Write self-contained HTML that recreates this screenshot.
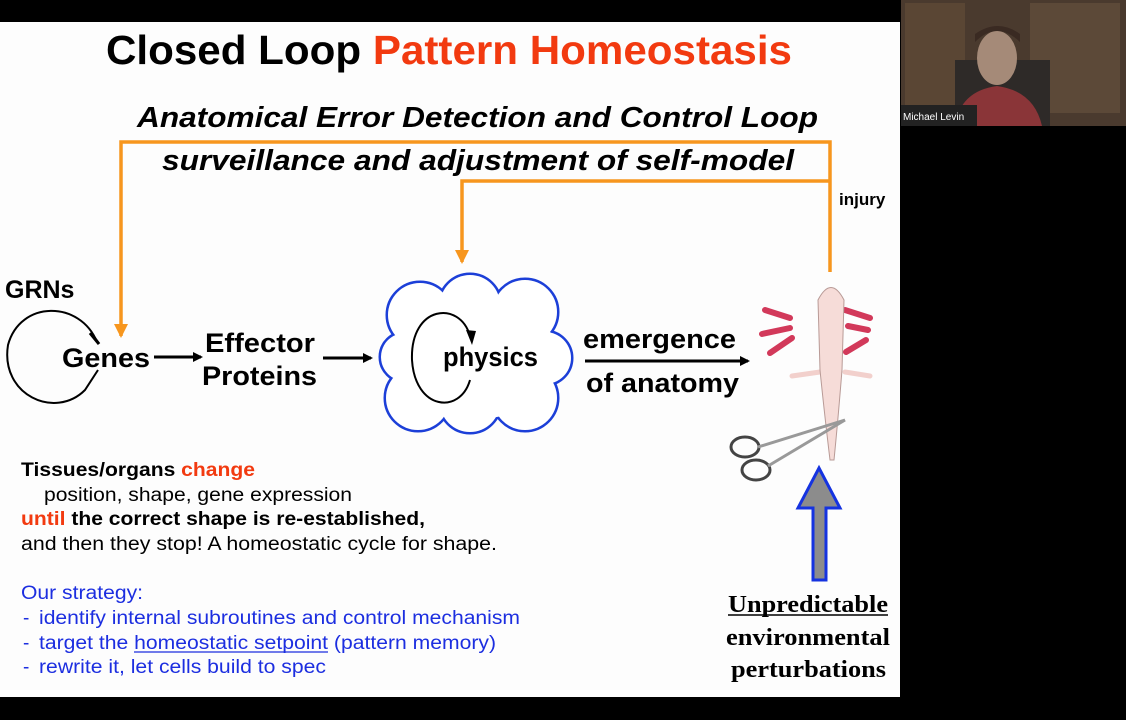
<!DOCTYPE html>
<html><head><meta charset="utf-8"><style>
html,body{margin:0;padding:0;background:#000;}
svg{display:block;}
text{font-family:"Liberation Sans",Arial,sans-serif;}
.s{font-family:"Liberation Serif",serif;}
</style></head><body>
<svg width="1126" height="720" viewBox="0 0 1126 720" xmlns="http://www.w3.org/2000/svg">
<defs>
<marker id="ab" markerWidth="10" markerHeight="10" refX="8" refY="5" orient="auto" markerUnits="userSpaceOnUse"><path d="M0,0 L10,5 L0,10 z" fill="#000"/></marker>
<marker id="ao" markerWidth="14" markerHeight="14" refX="7" refY="12" orient="0" markerUnits="userSpaceOnUse"><path d="M0,0 L14,0 L7,14 z" fill="#f7961e"/></marker>
</defs>
<rect x="0" y="0" width="1126" height="720" fill="#000"/>
<rect x="0" y="22" width="900" height="675" fill="#fdfdfd"/>
<!-- webcam -->
<rect x="901" y="0" width="225" height="126" fill="#4a3a2e"/>
<rect x="905" y="3" width="60" height="110" fill="#5a4634"/>
<rect x="1030" y="3" width="90" height="110" fill="#5c4938"/>
<rect x="955" y="60" width="95" height="66" fill="#2e2a28"/>
<ellipse cx="997" cy="58" rx="20" ry="27" fill="#a58a78"/>
<path d="M975,42 q22,-22 45,0 l0,-8 q-22,-16 -45,0z" fill="#3a2a22"/>
<path d="M955,126 q5,-35 42,-40 q37,5 45,40z" fill="#8a3538"/>
<rect x="901" y="105" width="76" height="21" fill="#222"/>
<text x="903" y="120" font-size="10" fill="#fff">Michael Levin</text>
<!-- title -->
<text x="106" y="64" font-size="41" font-weight="bold" fill="#000" textLength="686" lengthAdjust="spacingAndGlyphs">Closed Loop <tspan fill="#f23a10">Pattern Homeostasis</tspan></text>
<text x="137" y="127" font-size="29" font-weight="bold" font-style="italic" textLength="681" lengthAdjust="spacingAndGlyphs">Anatomical Error Detection and Control Loop</text>
<text x="162" y="170" font-size="29" font-weight="bold" font-style="italic" textLength="632" lengthAdjust="spacingAndGlyphs">surveillance and adjustment of self-model</text>
<!-- orange loops -->
<g stroke="#f7961e" stroke-width="3.5" fill="none">
<path d="M830,272 L830,142 L121,142 L121,336" marker-end="url(#ao)"/>
<path d="M830,181 L462,181 L462,262" marker-end="url(#ao)"/>
</g>
<text x="839" y="205" font-size="17" font-weight="bold">injury</text>
<!-- GRNs -->
<text x="5" y="298" font-size="25" font-weight="bold">GRNs</text>
<path d="M97,342 C80,300 20,300 8,345 C0,395 55,420 85,390 L98,370" fill="none" stroke="#000" stroke-width="2"/>
<path d="M90,333 L99,344 L93,336" fill="#000" stroke="#000" stroke-width="3"/>
<text x="62" y="367" font-size="27" font-weight="bold" textLength="88" lengthAdjust="spacingAndGlyphs">Genes</text>
<line x1="154" y1="357" x2="201" y2="357" stroke="#000" stroke-width="3" marker-end="url(#ab)"/>
<text x="205" y="352" font-size="27" font-weight="bold" textLength="110" lengthAdjust="spacingAndGlyphs">Effector</text>
<text x="202" y="385" font-size="27" font-weight="bold" textLength="115" lengthAdjust="spacingAndGlyphs">Proteins</text>
<line x1="323" y1="358" x2="371" y2="358" stroke="#000" stroke-width="3" marker-end="url(#ab)"/>
<!-- cloud -->
<g fill="#fff" stroke="#1c3fd8" stroke-width="5">
<circle cx="420" cy="315" r="32"/><circle cx="470" cy="305" r="30"/><circle cx="525" cy="312" r="32"/>
<circle cx="545" cy="358" r="26"/><circle cx="525" cy="398" r="32"/><circle cx="470" cy="402" r="30"/>
<circle cx="418" cy="398" r="32"/><circle cx="405" cy="357" r="24"/>
</g>
<g fill="#fff">
<circle cx="420" cy="315" r="32"/><circle cx="470" cy="305" r="30"/><circle cx="525" cy="312" r="32"/>
<circle cx="545" cy="358" r="26"/><circle cx="525" cy="398" r="32"/><circle cx="470" cy="402" r="30"/>
<circle cx="418" cy="398" r="32"/><circle cx="405" cy="357" r="24"/>
<ellipse cx="477" cy="357" rx="80" ry="62"/>
</g>
<path d="M470,336 C460,300 410,305 412,360 C415,410 460,415 470,380" fill="none" stroke="#000" stroke-width="2"/>
<path d="M466,330 L472,345 L476,331z" fill="#000"/>
<text x="443" y="366" font-size="27" font-weight="bold" textLength="95" lengthAdjust="spacingAndGlyphs">physics</text>
<text x="583" y="348" font-size="27" font-weight="bold" textLength="153" lengthAdjust="spacingAndGlyphs">emergence</text>
<line x1="585" y1="361" x2="748" y2="361" stroke="#000" stroke-width="3" marker-end="url(#ab)"/>
<text x="586" y="392" font-size="27" font-weight="bold" textLength="153" lengthAdjust="spacingAndGlyphs">of anatomy</text>
<!-- axolotl -->
<g>
<path d="M790,318 l-25,-8 M790,328 l-28,6 M792,338 l-22,15 M870,318 l-25,-8 M868,330 l-20,-4 M866,340 l-20,12" stroke="#d2395a" stroke-width="6" stroke-linecap="round"/>
<path d="M820,372 l-28,4 M845,372 l25,4" stroke="#f2d0cc" stroke-width="5" stroke-linecap="round"/>
<path d="M818,300 q13,-25 26,0 l-2,70 q-4,50 -8,90 l-4,0 q-6,-50 -10,-90z" fill="#f6dcd8" stroke="#b89a96" stroke-width="1"/>
</g>
<g stroke="#444" stroke-width="3" fill="none">
<ellipse cx="745" cy="447" rx="14" ry="10"/><ellipse cx="756" cy="470" rx="14" ry="10"/>
<line x1="758" y1="447" x2="845" y2="420" stroke="#999"/><line x1="768" y1="466" x2="845" y2="420" stroke="#999"/>
</g>
<!-- grey arrow -->
<path d="M813,580 L813,508 L798,508 L819,468 L840,508 L826,508 L826,580z" fill="#8c8c8c" stroke="#1533e0" stroke-width="3"/>
<text class="s" x="728" y="612" font-size="24" font-weight="bold" textLength="160" lengthAdjust="spacingAndGlyphs">Unpredictable</text>
<text class="s" x="726" y="645" font-size="24" font-weight="bold" textLength="164" lengthAdjust="spacingAndGlyphs">environmental</text>
<text class="s" x="731" y="677" font-size="24" font-weight="bold" textLength="155" lengthAdjust="spacingAndGlyphs">perturbations</text>
<line x1="728" y1="615" x2="888" y2="615" stroke="#000" stroke-width="1.5"/>
<!-- text block -->
<g font-size="19">
<text x="21" y="476" font-weight="bold" textLength="234" lengthAdjust="spacingAndGlyphs">Tissues/organs <tspan fill="#f23a10">change</tspan></text>
<text x="44" y="501" textLength="308" lengthAdjust="spacingAndGlyphs">position, shape, gene expression</text>
<text x="21" y="525" font-weight="bold" textLength="404" lengthAdjust="spacingAndGlyphs"><tspan fill="#f23a10">until</tspan> the correct shape is re-established,</text>
<text x="21" y="550" textLength="476" lengthAdjust="spacingAndGlyphs">and then they stop!  A homeostatic cycle for shape.</text>
<g fill="#1c2ee0">
<text x="21" y="599" textLength="122" lengthAdjust="spacingAndGlyphs">Our strategy:</text>
<text x="23" y="624">-</text><text x="39" y="624" textLength="481" lengthAdjust="spacingAndGlyphs">identify internal subroutines and control mechanism</text>
<text x="23" y="649">-</text><text x="39" y="649" textLength="457" lengthAdjust="spacingAndGlyphs">target the homeostatic setpoint (pattern memory)</text>
<text x="23" y="673">-</text><text x="39" y="673" textLength="287" lengthAdjust="spacingAndGlyphs">rewrite it, let cells build to spec</text>
</g>
<line x1="134" y1="652" x2="328" y2="652" stroke="#1c2ee0" stroke-width="1.3"/>
</g>
</svg>
</body></html>
